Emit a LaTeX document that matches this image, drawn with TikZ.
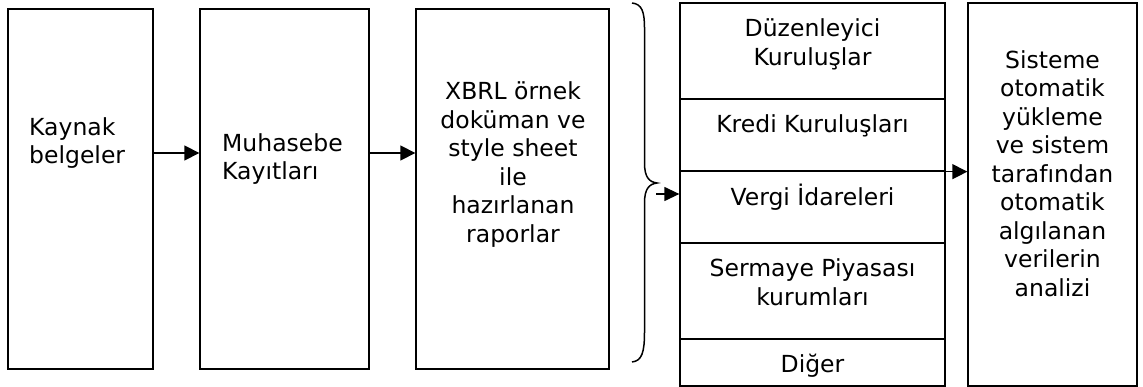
\documentclass[tikz,border=0pt]{standalone}
\usepackage{fontspec}
\setmainfont{DejaVu Sans}
\usetikzlibrary{arrows.meta}
\begin{document}
\begin{tikzpicture}[x=1pt,y=-1pt,
  box/.style={draw, line width=1.3pt, inner sep=0pt},
  txt/.style={font=\fontsize{23.5}{28.5}\selectfont, inner sep=0pt, align=center},
  arr/.style={line width=1.3pt, -{Triangle[length=15pt,width=15pt]}},
  sarr/.style={line width=1.3pt, -{Triangle[length=15pt,width=14pt]}}]
\useasboundingbox (0,0) rectangle (1143,387);
% main boxes
\node[box, minimum width=145, minimum height=360] (b1) at (80.5,189) {};
\node[box, minimum width=169, minimum height=360] (b2) at (284.5,189) {};
\node[box, minimum width=193, minimum height=360] (b3) at (512.5,189) {};
% stacked cells
\node[box, minimum width=265, minimum height=96] (c1) at (812.5,51) {};
\node[box, minimum width=265, minimum height=72] (c2) at (812.5,135) {};
\node[box, minimum width=265, minimum height=72] (c3) at (812.5,207) {};
\node[box, minimum width=265, minimum height=96] (c4) at (812.5,291) {};
\node[box, minimum width=265, minimum height=47] (c5) at (812.5,362.5) {};
% right box
\node[box, minimum width=169, minimum height=383] (r) at (1052.5,194.5) {};
% texts
\node[txt, align=left, anchor=west] (t1) at (29,143) {Kaynak\\belgeler};
\node[txt, align=left, anchor=west] (t2) at (222,159) {Muhasebe\\Kayıtları};
\node[txt] (t3) at (513,164.6) {XBRL örnek\\doküman ve\\style sheet\\ile\\hazırlanan\\raporlar};
\node[txt] (tc1) at (812.5,44.5) {Düzenleyici\\Kuruluşlar};
\node[txt] (tc2) at (812.5,126) {Kredi Kuruluşları};
\node[txt] (tc3) at (812.5,197) {Vergi İdareleri};
\node[txt] (tc4) at (812.5,282.3) {Sermaye Piyasası\\kurumları};
\node[txt] (tc5) at (812.5,366) {Diğer};
\node[txt] (tr) at (1052.5,173.4) {Sisteme\\otomatik\\yükleme\\ve sistem\\tarafından\\otomatik\\algılanan\\verilerin\\analizi};
% brace
\draw[line width=1.5pt] (632,3) .. controls (642,4) and (644.5,12) .. (644.5,28) -- (644.5,163)
  .. controls (644.5,177) and (649,182) .. (657,183)
  .. controls (649,184) and (644.5,189) .. (644.5,203) -- (644.5,332)
  .. controls (644.5,352) and (642,361) .. (632,362);
\coordinate (bt) at (656,194);
% arrows
\draw[arr] ([yshift=36pt]b1.east) -- ([yshift=36pt]b2.west);
\draw[arr] ([yshift=36pt]b2.east) -- ([yshift=36pt]b3.west);
\draw[sarr] (bt) -- (c3.west |- bt);
\draw[arr] (c2.south east) -- (r.west |- c2.south east);
\end{tikzpicture}
\end{document}
